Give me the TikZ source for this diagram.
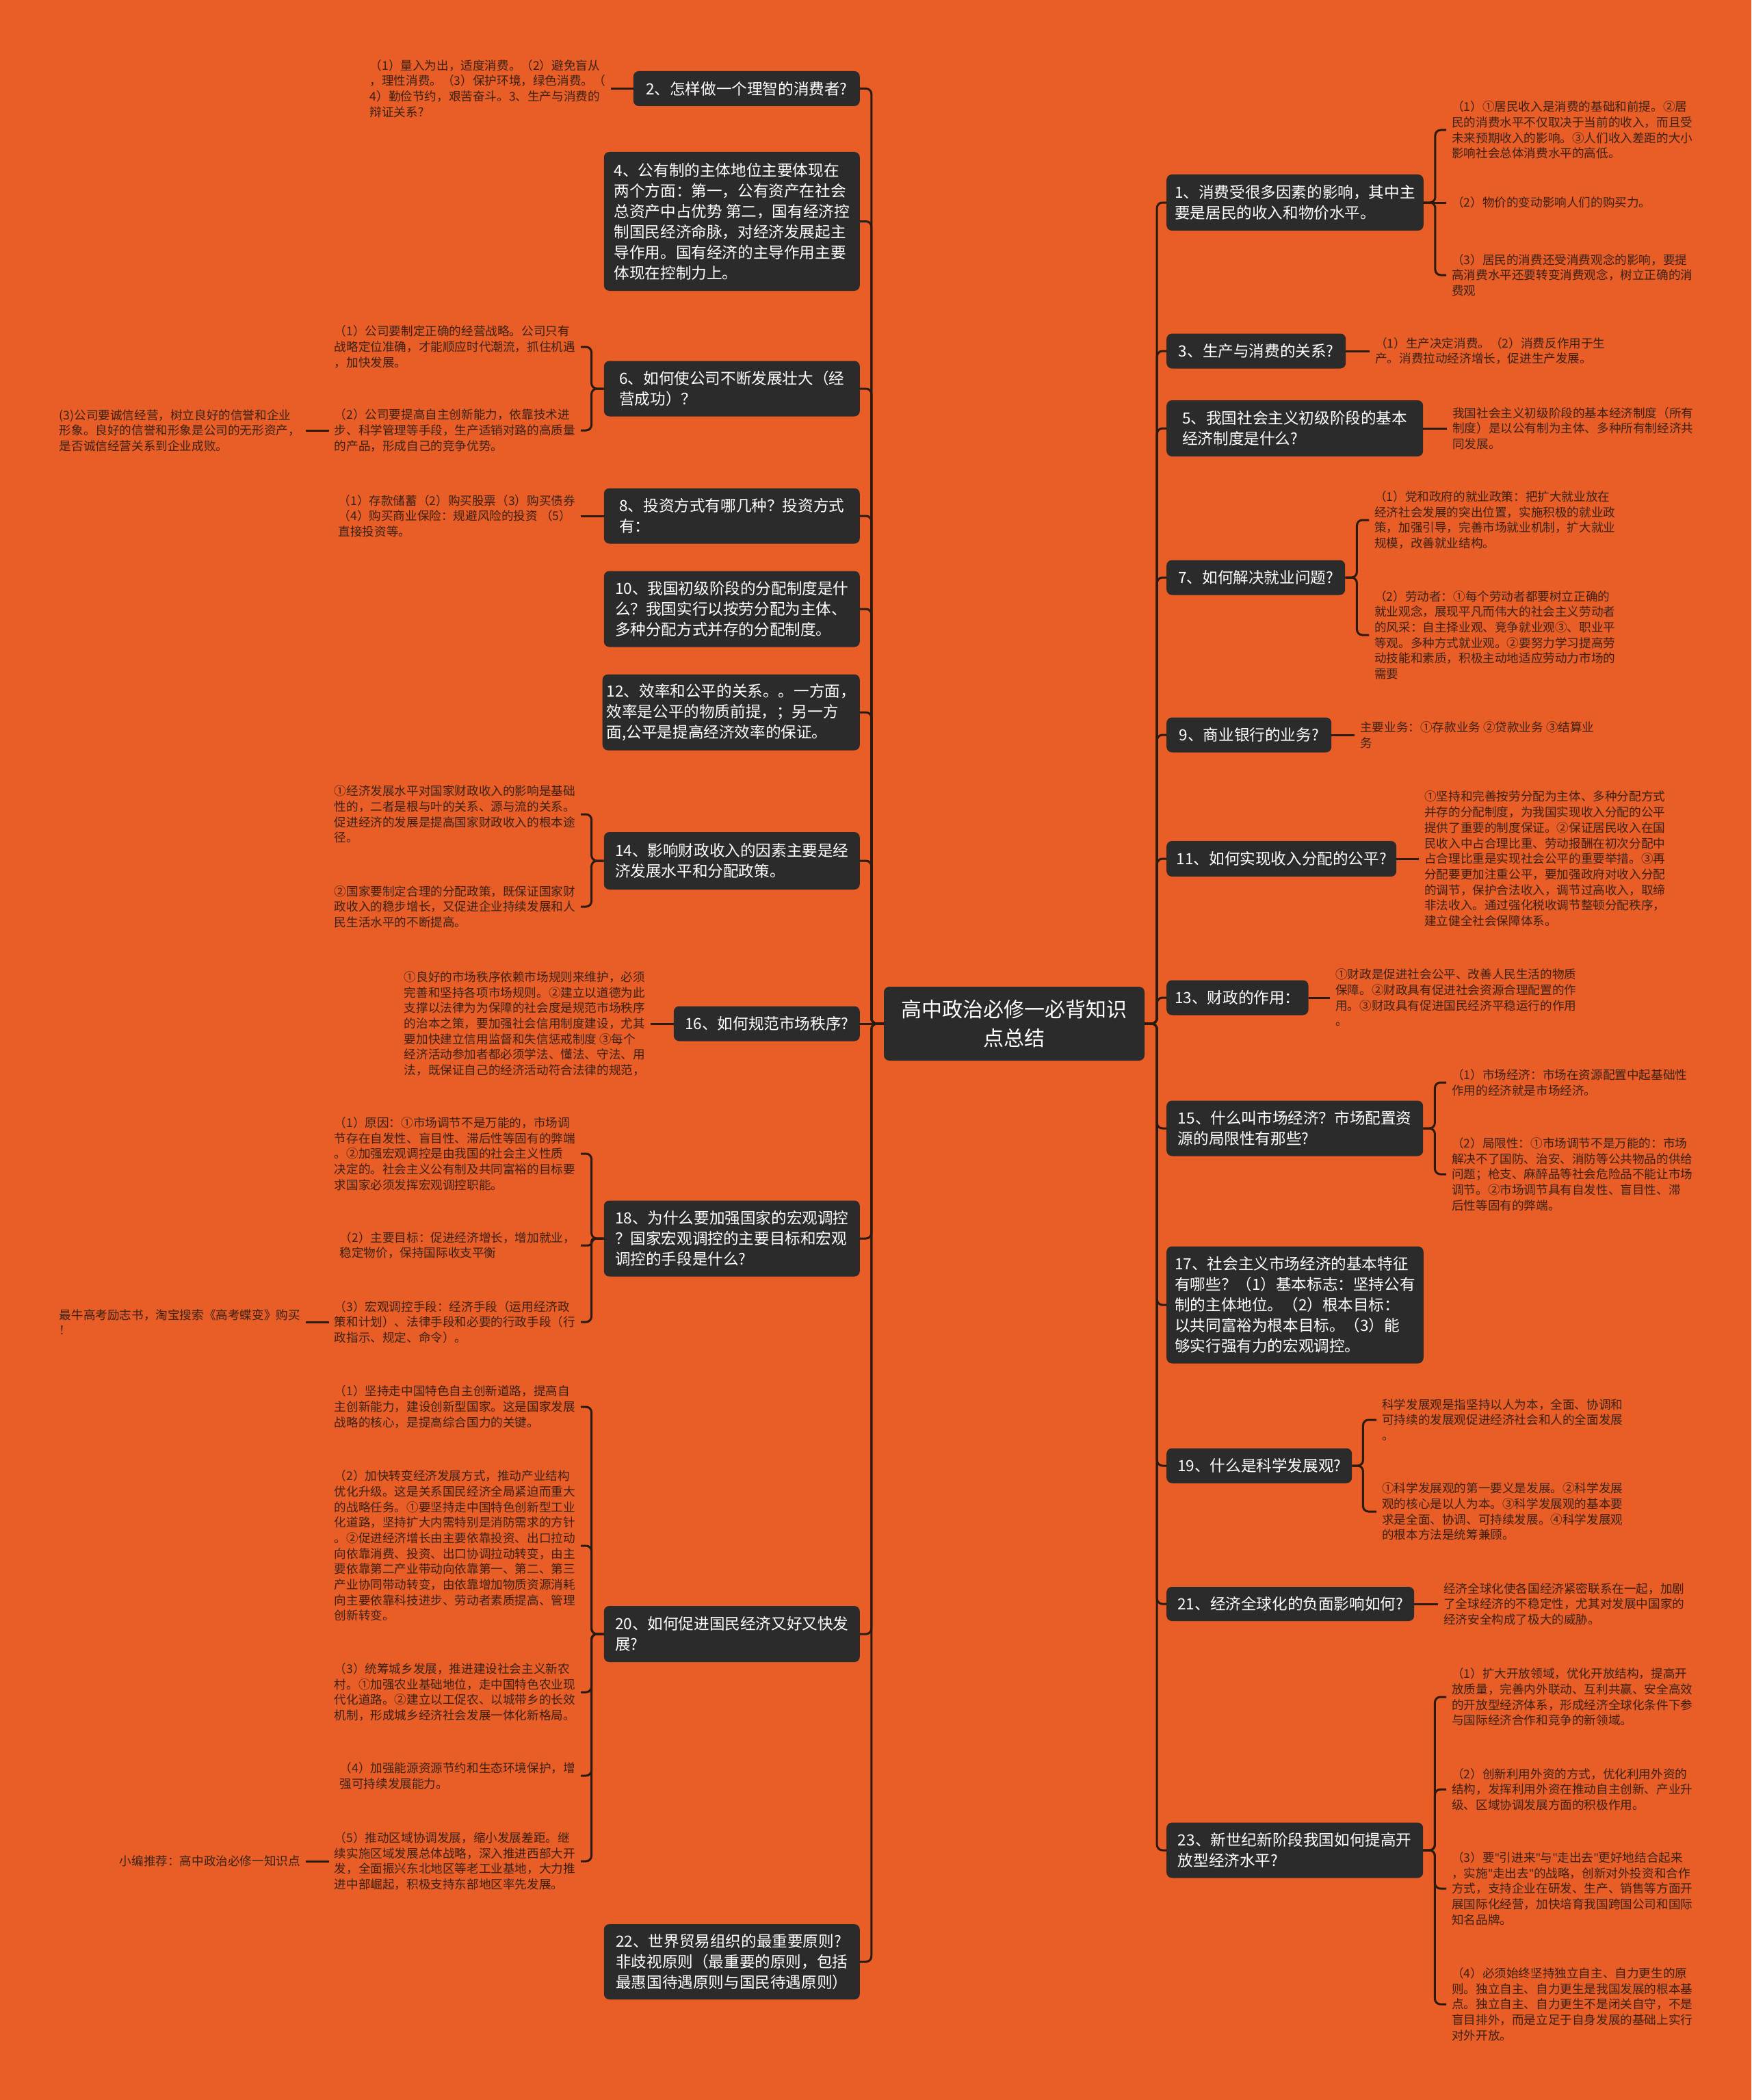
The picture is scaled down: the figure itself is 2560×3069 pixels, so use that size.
\documentclass[tikz,border=0pt]{standalone}
\usepackage{fontspec}
\setmainfont{Noto Sans CJK SC}
\newfontfamily\latinf{Noto Sans}
\newcommand{\dquo}{{\latinf "}}
\definecolor{bg}{HTML}{E95D27}
\definecolor{boxc}{HTML}{2B2B2B}
\definecolor{linec}{HTML}{2B1A10}
\definecolor{leafc}{HTML}{3A2216}
\begin{document}
\begin{tikzpicture}[x=1pt,y=-1pt,
  box/.style={fill=boxc, rounded corners=8pt, text=white, font=\fontsize{22.6}{30}\selectfont, align=left, inner xsep=12pt, inner ysep=0pt},
  leaf/.style={text=leafc, font=\fontsize{17.6}{22.7}\selectfont, align=left, inner xsep=8pt, inner ysep=2pt},
  conn/.style={draw=linec, line width=3pt, rounded corners=8pt}]
\fill[bg] (0,0) rectangle (2560,3069);
\useasboundingbox (0,0) rectangle (2560,3069);

% central
\node[box, align=center, font=\fontsize{30}{42}\selectfont, minimum width=381pt, minimum height=108pt] (c) at (1482.5,1496) {高中政治必修一必背知识\\点总结};

% left boxes
\node[box, anchor=east, minimum width=331pt, minimum height=51pt] (n2) at (1257,129.5) {2、怎样做一个理智的消费者?};
\node[box, anchor=east, minimum width=374pt, minimum height=203pt] (n4) at (1257,323.5) {4、公有制的主体地位主要体现在\\两个方面：第一，公有资产在社会\\总资产中占优势 第二，国有经济控\\制国民经济命脉，对经济发展起主\\导作用。国有经济的主导作用主要\\体现在控制力上。};
\node[box, anchor=east, minimum width=374pt, minimum height=81pt] (n6) at (1257,568) {6、如何使公司不断发展壮大（经\\营成功）？};
\node[box, anchor=east, minimum width=374pt, minimum height=81pt] (n8) at (1257,754) {8、投资方式有哪几种？投资方式\\有：};
\node[box, anchor=east, minimum width=374pt, minimum height=111pt] (n10) at (1257,890) {10、我国初级阶段的分配制度是什\\么？我国实行以按劳分配为主体、\\多种分配方式并存的分配制度。};
\node[box, anchor=east, minimum width=374pt, minimum height=111pt, inner xsep=6pt] (n12) at (1257,1041) {12、效率和公平的关系。。一方面，\\效率是公平的物质前提，；另一方\\面,公平是提高经济效率的保证。};
\node[box, anchor=east, minimum width=374pt, minimum height=84pt] (n14) at (1257,1258) {14、影响财政收入的因素主要是经\\济发展水平和分配政策。};
\node[box, anchor=east, minimum width=272pt, minimum height=51pt] (n16) at (1257,1496) {16、如何规范市场秩序?};
\node[box, anchor=east, minimum width=374pt, minimum height=111pt] (n18) at (1257,1810) {18、为什么要加强国家的宏观调控\\？国家宏观调控的主要目标和宏观\\调控的手段是什么?};
\node[box, anchor=east, minimum width=374pt, minimum height=82pt] (n20) at (1257,2388) {20、如何促进国民经济又好又快发\\展?};
\node[box, anchor=east, minimum width=374pt, minimum height=110pt] (n22) at (1257,2867) {22、世界贸易组织的最重要原则?\\非歧视原则（最重要的原则，包括\\最惠国待遇原则与国民待遇原则）};

% right boxes
\node[box, anchor=west, minimum width=375pt, minimum height=82pt] (n1) at (1705,296) {1、消费受很多因素的影响，其中主\\要是居民的收入和物价水平。};
\node[box, anchor=west, minimum width=262pt, minimum height=51pt] (n3) at (1705,513) {3、生产与消费的关系?};
\node[box, anchor=west, minimum width=375pt, minimum height=82pt] (n5) at (1705,626) {5、我国社会主义初级阶段的基本\\经济制度是什么?};
\node[box, anchor=west, minimum width=261pt, minimum height=51pt] (n7) at (1705,844) {7、如何解决就业问题?};
\node[box, anchor=west, minimum width=241pt, minimum height=51pt] (n9) at (1705,1074) {9、商业银行的业务?};
\node[box, anchor=west, minimum width=336pt, minimum height=52pt] (n11) at (1705,1255) {11、如何实现收入分配的公平?};
\node[box, anchor=west, minimum width=203pt, minimum height=51pt] (n13) at (1705,1458) {13、财政的作用：};
\node[box, anchor=west, minimum width=375pt, minimum height=81pt] (n15) at (1705,1649) {15、什么叫市场经济？市场配置资\\源的局限性有那些?};
\node[box, anchor=west, minimum width=375pt, minimum height=171pt] (n17) at (1705,1907) {17、社会主义市场经济的基本特征\\有哪些？（1）基本标志：坚持公有\\制的主体地位。（2）根本目标：\\以共同富裕为根本目标。（3）能\\够实行强有力的宏观调控。};
\node[box, anchor=west, minimum width=271pt, minimum height=51pt] (n19) at (1705,2142) {19、什么是科学发展观?};
\node[box, anchor=west, minimum width=362pt, minimum height=50pt] (n21) at (1705,2344) {21、经济全球化的负面影响如何?};
\node[box, anchor=west, minimum width=375pt, minimum height=81pt] (n23) at (1705,2704) {23、新世纪新阶段我国如何提高开\\放型经济水平?};

% left leaves
\node[leaf, anchor=east] (l2) at (893,129.5) {（1）量入为出，适度消费。（2）避免盲从\\，理性消费。（3）保护环境，绿色消费。（\\4）勤俭节约，艰苦奋斗。3、生产与消费的\\辩证关系?};
\node[leaf, anchor=east] (l6a) at (849,507) {（1）公司要制定正确的经营战略。公司只有\\战略定位准确，才能顺应时代潮流，抓住机遇\\，加快发展。};
\node[leaf, anchor=east] (l6b) at (849,629) {（2）公司要提高自主创新能力，依靠技术进\\步、科学管理等手段，生产适销对路的高质量\\的产品，形成自己的竞争优势。};
\node[leaf, anchor=east] (l6c) at (447,629) {(3)公司要诚信经营，树立良好的信誉和企业\\形象。良好的信誉和形象是公司的无形资产，\\是否诚信经营关系到企业成败。};
\node[leaf, anchor=east] (l8) at (849,754) {（1）存款储蓄（2）购买股票（3）购买债券\\（4）购买商业保险：规避风险的投资 （5）\\直接投资等。};
\node[leaf, anchor=east] (l14a) at (849,1190) {①经济发展水平对国家财政收入的影响是基础\\性的，二者是根与叶的关系、源与流的关系。\\促进经济的发展是提高国家财政收入的根本途\\径。};
\node[leaf, anchor=east] (l14b) at (849,1325) {②国家要制定合理的分配政策，既保证国家财\\政收入的稳步增长，又促进企业持续发展和人\\民生活水平的不断提高。};
\node[leaf, anchor=east] (l16) at (951,1496) {①良好的市场秩序依赖市场规则来维护，必须\\完善和坚持各项市场规则。②建立以道德为此\\支撑以法律为为保障的社会度是规范市场秩序\\的治本之策，要加强社会信用制度建设，尤其\\要加快建立信用监督和失信惩戒制度 ③每个\\经济活动参加者都必须学法、懂法、守法、用\\法，既保证自己的经济活动符合法律的规范，};
\node[leaf, anchor=east] (l18a) at (849,1686) {（1）原因：①市场调节不是万能的，市场调\\节存在自发性、盲目性、滞后性等固有的弊端\\。②加强宏观调控是由我国的社会主义性质\\决定的。社会主义公有制及共同富裕的目标要\\求国家必须发挥宏观调控职能。};
\node[leaf, anchor=east] (l18b) at (849,1820) {（2）主要目标：促进经济增长，增加就业，\\稳定物价，保持国际收支平衡};
\node[leaf, anchor=east] (l18c) at (849,1932) {（3）宏观调控手段：经济手段（运用经济政\\策和计划）、法律手段和必要的行政手段（行\\政指示、规定、命令）。};
\node[leaf, anchor=east] (l18d) at (447,1932) {最牛高考励志书，淘宝搜索《高考蝶变》购买\\！};
\node[leaf, anchor=east] (l20a) at (849,2056) {（1）坚持走中国特色自主创新道路，提高自\\主创新能力，建设创新型国家。这是国家发展\\战略的核心，是提高综合国力的关键。};
\node[leaf, anchor=east] (l20b) at (849,2259) {（2）加快转变经济发展方式，推动产业结构\\优化升级。这是关系国民经济全局紧迫而重大\\的战略任务。①要坚持走中国特色创新型工业\\化道路，坚持扩大内需特别是消防需求的方针\\。②促进经济增长由主要依靠投资、出口拉动\\向依靠消费、投资、出口协调拉动转变，由主\\要依靠第二产业带动向依靠第一、第二、第三\\产业协同带动转变，由依靠增加物质资源消耗\\向主要依靠科技进步、劳动者素质提高、管理\\创新转变。};
\node[leaf, anchor=east] (l20c) at (849,2473) {（3）统筹城乡发展，推进建设社会主义新农\\村。①加强农业基础地位，走中国特色农业现\\代化道路。②建立以工促农、以城带乡的长效\\机制，形成城乡经济社会发展一体化新格局。};
\node[leaf, anchor=east] (l20d) at (849,2595) {（4）加强能源资源节约和生态环境保护，增\\强可持续发展能力。};
\node[leaf, anchor=east] (l20e) at (849,2720) {（5）推动区域协调发展，缩小发展差距。继\\续实施区域发展总体战略，深入推进西部大开\\发，全面振兴东北地区等老工业基地，大力推\\进中部崛起，积极支持东部地区率先发展。};
\node[leaf, anchor=east] (l20f) at (447,2720) {小编推荐：高中政治必修一知识点};

% right leaves
\node[leaf, anchor=west] (r1a) at (2114,190) {（1）①居民收入是消费的基础和前提。②居\\民的消费水平不仅取决于当前的收入，而且受\\未来预期收入的影响。③人们收入差距的大小\\影响社会总体消费水平的高低。};
\node[leaf, anchor=west] (r1b) at (2114,296) {（2）物价的变动影响人们的购买力。};
\node[leaf, anchor=west] (r1c) at (2114,402) {（3）居民的消费还受消费观念的影响，要提\\高消费水平还要转变消费观念，树立正确的消\\费观};
\node[leaf, anchor=west] (r3) at (2002,513) {（1）生产决定消费。（2）消费反作用于生\\产。消费拉动经济增长，促进生产发展。};
\node[leaf, anchor=west] (r5) at (2115,626) {我国社会主义初级阶段的基本经济制度（所有\\制度）是以公有制为主体、多种所有制经济共\\同发展。};
\node[leaf, anchor=west] (r7a) at (2001,760) {（1）党和政府的就业政策：把扩大就业放在\\经济社会发展的突出位置，实施积极的就业政\\策，加强引导，完善市场就业机制，扩大就业\\规模，改善就业结构。};
\node[leaf, anchor=west] (r7b) at (2001,928) {（2）劳动者：①每个劳动者都要树立正确的\\就业观念，展现平凡而伟大的社会主义劳动者\\的风采：自主择业观、竞争就业观③、职业平\\等观。多种方式就业观。②要努力学习提高劳\\动技能和素质，积极主动地适应劳动力市场的\\需要};
\node[leaf, anchor=west] (r9) at (1980,1074) {主要业务：①存款业务 ②贷款业务 ③结算业\\务};
\node[leaf, anchor=west] (r11) at (2074,1255) {①坚持和完善按劳分配为主体、多种分配方式\\并存的分配制度，为我国实现收入分配的公平\\提供了重要的制度保证。②保证居民收入在国\\民收入中占合理比重、劳动报酬在初次分配中\\占合理比重是实现社会公平的重要举措。③再\\分配要更加注重公平，要加强政府对收入分配\\的调节，保护合法收入，调节过高收入，取缔\\非法收入。通过强化税收调节整顿分配秩序，\\建立健全社会保障体系。};
\node[leaf, anchor=west] (r13) at (1944,1458) {①财政是促进社会公平、改善人民生活的物质\\保障。②财政具有促进社会资源合理配置的作\\用。③财政具有促进国民经济平稳运行的作用\\。};
\node[leaf, anchor=west] (r15a) at (2114,1582) {（1）市场经济：市场在资源配置中起基础性\\作用的经济就是市场经济。};
\node[leaf, anchor=west] (r15b) at (2114,1716) {（2）局限性：①市场调节不是万能的：市场\\解决不了国防、治安、消防等公共物品的供给\\问题；枪支、麻醉品等社会危险品不能让市场\\调节。②市场调节具有自发性、盲目性、滞\\后性等固有的弊端。};
\node[leaf, anchor=west] (r19a) at (2012,2075) {科学发展观是指坚持以人为本，全面、协调和\\可持续的发展观促进经济社会和人的全面发展\\。};
\node[leaf, anchor=west] (r19b) at (2012,2209) {①科学发展观的第一要义是发展。②科学发展\\观的核心是以人为本。③科学发展观的基本要\\求是全面、协调、可持续发展。④科学发展观\\的根本方法是统筹兼顾。};
\node[leaf, anchor=west] (r21) at (2102,2344) {经济全球化使各国经济紧密联系在一起，加剧\\了全球经济的不稳定性，尤其对发展中国家的\\经济安全构成了极大的威胁。};
\node[leaf, anchor=west] (r23a) at (2114,2480) {（1）扩大开放领域，优化开放结构，提高开\\放质量，完善内外联动、互利共赢、安全高效\\的开放型经济体系，形成经济全球化条件下参\\与国际经济合作和竞争的新领域。};
\node[leaf, anchor=west] (r23b) at (2114,2615) {（2）创新利用外资的方式，优化利用外资的\\结构，发挥利用外资在推动自主创新、产业升\\级、区域协调发展方面的积极作用。};
\node[leaf, anchor=west] (r23c) at (2114,2760) {（3）要\dquo 引进来\dquo 与\dquo 走出去\dquo 更好地结合起来\\，实施\dquo 走出去\dquo 的战略，创新对外投资和合作\\方式，支持企业在研发、生产、销售等方面开\\展国际化经营，加快培育我国跨国公司和国际\\知名品牌。};
\node[leaf, anchor=west] (r23d) at (2114,2929) {（4）必须始终坚持独立自主、自力更生的原\\则。独立自主、自力更生是我国发展的根本基\\点。独立自主、自力更生不是闭关自守，不是\\盲目排外，而是立足于自身发展的基础上实行\\对外开放。};

% trunks
\foreach \n in {n2,n4,n6,n8,n10,n12,n14,n18,n20,n22}
  \draw[conn] (c.west) -- ++(-18,0) |- (\n.east);
\draw[conn] (c.west) -- (n16.east);
\foreach \n in {n1,n3,n5,n7,n9,n11,n13,n15,n17,n19,n21,n23}
  \draw[conn] (c.east) -- ++(18,0) |- (\n.west);

% left leaf connectors
\draw[conn] (n2.west) -- (l2.east);
\draw[conn] (n6.west) -- ++(-18,0) |- (l6a.east);
\draw[conn] (n6.west) -- ++(-18,0) |- (l6b.east);
\draw[conn] (l6b.west) -- (l6c.east);
\draw[conn] (n8.west) -- (l8.east);
\draw[conn] (n14.west) -- ++(-18,0) |- (l14a.east);
\draw[conn] (n14.west) -- ++(-18,0) |- (l14b.east);
\draw[conn] (n16.west) -- (l16.east);
\draw[conn] (n18.west) -- ++(-18,0) |- (l18a.east);
\draw[conn, rounded corners=4pt] (n18.west) -- ++(-18,0) |- (l18b.east);
\draw[conn] (n18.west) -- ++(-18,0) |- (l18c.east);
\draw[conn] (l18c.west) -- (l18d.east);
\foreach \l in {l20a,l20b,l20c,l20d,l20e}
  \draw[conn] (n20.west) -- ++(-18,0) |- (\l.east);
\draw[conn] (l20e.west) -- (l20f.east);

% right leaf connectors
\draw[conn] (n1.east) -- ++(17,0) |- (r1a.west);
\draw[conn] (n1.east) -- (r1b.west);
\draw[conn] (n1.east) -- ++(17,0) |- (r1c.west);
\draw[conn] (n3.east) -- (r3.west);
\draw[conn] (n5.east) -- (r5.west);
\draw[conn] (n7.east) -- ++(17,0) |- (r7a.west);
\draw[conn] (n7.east) -- ++(17,0) |- (r7b.west);
\draw[conn] (n9.east) -- (r9.west);
\draw[conn] (n11.east) -- (r11.west);
\draw[conn] (n13.east) -- (r13.west);
\draw[conn] (n15.east) -- ++(17,0) |- (r15a.west);
\draw[conn] (n15.east) -- ++(17,0) |- (r15b.west);
\draw[conn] (n19.east) -- ++(16,0) |- (r19a.west);
\draw[conn] (n19.east) -- ++(16,0) |- (r19b.west);
\draw[conn] (n21.east) -- (r21.west);
\foreach \r in {r23a,r23b,r23c,r23d}
  \draw[conn] (n23.east) -- ++(17,0) |- (\r.west);
\end{tikzpicture}
\end{document}
